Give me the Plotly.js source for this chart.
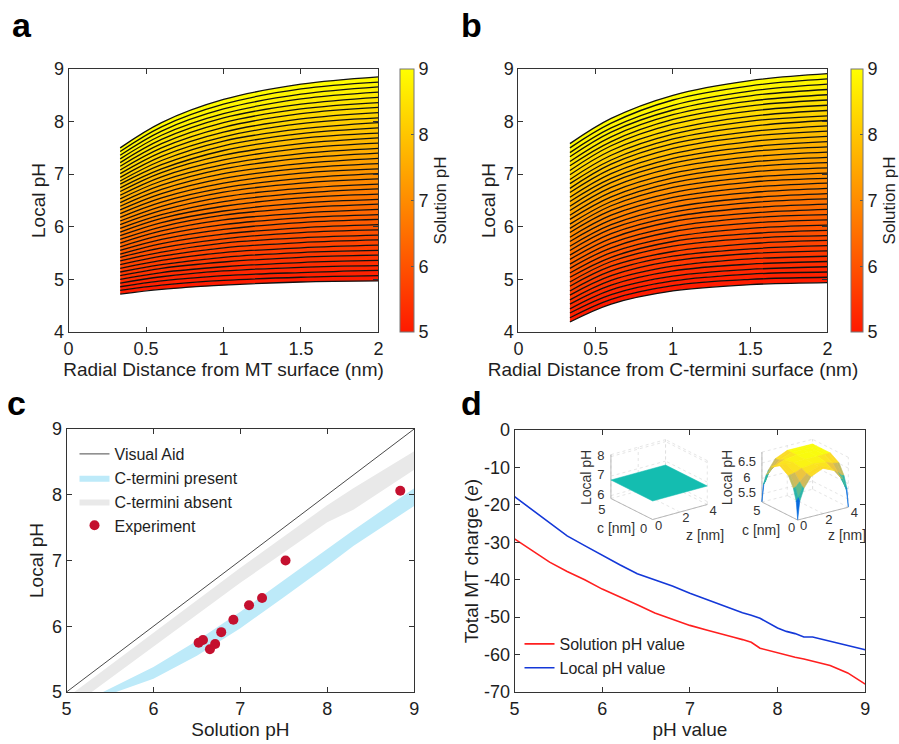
<!DOCTYPE html>
<html>
<head>
<meta charset="utf-8">
<script src="https://cdn.plot.ly/plotly-3.0.1.min.js"></script>
<style>html,body{margin:0;padding:0;background:#fff;}#chart{width:899px;height:744px;}</style>
</head>
<body>
<div id="chart"></div>
<script>
// ---------------- DATA ----------------
const solutionPH = [5.0,5.1,5.2,5.3,5.4,5.5,5.6,5.7,5.8,5.9,6.0,6.1,6.2,6.3,6.4,6.5,6.6,6.7,6.8,6.9,7.0,7.1,7.2,7.3,7.4,7.5,7.6,7.7,7.8,7.9,8.0,8.1,8.2,8.3,8.4,8.5,8.6,8.7,8.8,8.9,9.0];
const radialDist = [0.333,0.6,1.0,1.5,2.0];

// panel a: local pH at each radial distance, one entry per solution pH
const localA_r033 = [4.72,4.79,4.86,4.93,5.00,5.07,5.14,5.21,5.28,5.35,5.42,5.48,5.55,5.62,5.69,5.76,5.83,5.90,5.97,6.04,6.11,6.18,6.25,6.32,6.39,6.46,6.53,6.60,6.67,6.74,6.81,6.87,6.94,7.01,7.08,7.15,7.22,7.29,7.36,7.43,7.50];
const localA_r06  = [4.81,4.89,4.97,5.05,5.13,5.21,5.28,5.36,5.44,5.52,5.60,5.68,5.76,5.84,5.92,6.00,6.08,6.16,6.23,6.31,6.39,6.47,6.55,6.63,6.71,6.79,6.87,6.95,7.03,7.10,7.18,7.26,7.34,7.42,7.50,7.58,7.66,7.74,7.82,7.90,7.98];
const localA_r1   = [4.89,4.98,5.07,5.16,5.24,5.33,5.42,5.51,5.60,5.69,5.77,5.86,5.95,6.04,6.13,6.22,6.30,6.39,6.48,6.57,6.66,6.74,6.83,6.92,7.01,7.10,7.18,7.27,7.36,7.45,7.54,7.63,7.71,7.80,7.89,7.98,8.07,8.15,8.24,8.33,8.42];
const localA_r15  = [4.95,5.04,5.13,5.23,5.32,5.42,5.51,5.60,5.70,5.79,5.89,5.98,6.08,6.17,6.26,6.36,6.45,6.55,6.64,6.73,6.83,6.92,7.02,7.11,7.20,7.30,7.39,7.49,7.58,7.68,7.77,7.86,7.96,8.05,8.15,8.24,8.33,8.43,8.52,8.62,8.71];
const localA_r2   = [4.97,5.07,5.17,5.26,5.36,5.46,5.55,5.65,5.75,5.84,5.94,6.04,6.14,6.23,6.33,6.43,6.52,6.62,6.72,6.81,6.91,7.01,7.10,7.20,7.30,7.40,7.49,7.59,7.69,7.78,7.88,7.98,8.07,8.17,8.27,8.36,8.46,8.56,8.66,8.75,8.85];

// panel b
const localB_r033 = [4.19,4.27,4.36,4.44,4.53,4.61,4.70,4.78,4.87,4.95,5.04,5.12,5.21,5.29,5.38,5.46,5.55,5.63,5.72,5.80,5.89,5.97,6.05,6.14,6.22,6.31,6.39,6.48,6.56,6.65,6.73,6.82,6.90,6.99,7.07,7.16,7.24,7.33,7.41,7.50,7.58];
const localB_r06  = [4.53,4.62,4.71,4.80,4.89,4.98,5.07,5.16,5.25,5.34,5.42,5.51,5.60,5.69,5.78,5.87,5.96,6.04,6.13,6.22,6.31,6.40,6.48,6.57,6.66,6.75,6.84,6.92,7.01,7.10,7.19,7.27,7.36,7.45,7.54,7.62,7.71,7.80,7.88,7.97,8.06];
const localB_r1   = [4.78,4.88,4.97,5.06,5.16,5.25,5.35,5.44,5.53,5.63,5.72,5.81,5.91,6.00,6.10,6.19,6.28,6.37,6.47,6.56,6.65,6.75,6.84,6.93,7.02,7.12,7.21,7.30,7.39,7.49,7.58,7.67,7.76,7.85,7.95,8.04,8.13,8.22,8.31,8.41,8.50];
const localB_r15  = [4.90,5.00,5.10,5.19,5.29,5.39,5.49,5.58,5.68,5.78,5.87,5.97,6.07,6.17,6.26,6.36,6.46,6.55,6.65,6.75,6.85,6.94,7.04,7.14,7.23,7.33,7.43,7.52,7.62,7.72,7.81,7.91,8.01,8.10,8.20,8.30,8.39,8.49,8.58,8.68,8.78];
const localB_r2   = [4.94,5.04,5.14,5.24,5.34,5.44,5.54,5.64,5.74,5.83,5.93,6.03,6.13,6.23,6.33,6.43,6.53,6.63,6.73,6.83,6.92,7.02,7.12,7.22,7.32,7.42,7.52,7.62,7.72,7.82,7.92,8.02,8.11,8.21,8.31,8.41,8.51,8.61,8.71,8.81,8.91];

// panel c
const visualAidX = [5, 9];
const visualAidY = [5, 9];
const absentUpperX = [5.09, 6.0, 7.0, 8.0, 8.3, 9.0];
const absentUpperY = [5.00, 5.90, 6.89, 7.84, 8.10, 8.66];
const absentLowerX = [5.29, 6.0, 7.0, 8.0, 8.3, 9.0];
const absentLowerY = [5.00, 5.69, 6.66, 7.58, 7.77, 8.38];
const presentUpperX = [5.42, 6.0, 6.5, 7.0, 7.5, 8.0, 8.3, 9.0];
const presentUpperY = [5.00, 5.38, 5.78, 6.22, 6.70, 7.18, 7.46, 8.10];
const presentLowerX = [5.57, 6.0, 6.5, 7.0, 7.5, 8.0, 8.3, 9.0];
const presentLowerY = [5.00, 5.20, 5.55, 5.97, 6.44, 6.92, 7.22, 7.83];
const expSolutionPH = [6.52, 6.57, 6.65, 6.71, 6.78, 6.92, 7.10, 7.25, 7.52, 8.84];
const expLocalPH    = [5.75, 5.79, 5.65, 5.73, 5.91, 6.10, 6.32, 6.43, 7.00, 8.06];

// panel d
const chargePH = [5.0,5.2,5.4,5.6,5.8,6.0,6.2,6.4,6.6,6.8,7.0,7.2,7.4,7.5,7.6,7.7,7.8,8.0,8.1,8.2,8.3,8.4,8.6,8.8,9.0];
const chargeSolution = [-29.1,-32.3,-35.3,-37.8,-40.0,-42.5,-44.5,-46.7,-48.9,-50.5,-52.2,-53.5,-54.9,-55.4,-56.0,-56.7,-58.3,-59.6,-60.1,-60.7,-61.2,-61.7,-62.9,-64.9,-67.9];
const chargeLocal    = [-17.8,-21.3,-24.8,-28.3,-30.9,-33.5,-36.0,-38.4,-40.0,-41.7,-43.6,-45.4,-47.1,-48.0,-48.8,-49.5,-50.3,-52.9,-53.8,-54.4,-55.3,-55.3,-56.4,-57.4,-58.7];
const chargeTickVals = [-70,-60,-50,-40,-30,-20,-10,0];
const chargeTickText = ['-70','-60','-50','-40','-30','-20','-10','0'];

// insets: local pH maps over (z [nm], c [nm]); rows follow c, columns follow z
const inset1Z = [0, 4];
const inset1C = [0, 5];
const inset1PH = [[6.8, 6.8],[6.8, 6.8]];
const inset1Ticks = [6, 7, 8];
const inset2Z = [0, 0.16, 0.5, 1.05, 2, 2.95, 3.5, 3.84, 4];
const inset2C = [0, 0.2, 0.6, 1.3, 2.5, 3.7, 4.4, 4.8, 5];
const inset2PH = [
  [5.25,5.82,6.21,6.53,6.70,6.53,6.21,5.82,5.25],
  [5.82,5.92,6.23,6.53,6.70,6.53,6.23,5.92,5.82],
  [6.19,6.21,6.35,6.56,6.70,6.56,6.35,6.21,6.19],
  [6.52,6.53,6.56,6.65,6.70,6.65,6.56,6.53,6.52],
  [6.70,6.70,6.70,6.70,6.70,6.70,6.70,6.70,6.70],
  [6.52,6.53,6.56,6.65,6.70,6.70,6.70,6.70,6.70],
  [6.19,6.21,6.35,6.56,6.70,6.70,6.70,6.70,6.70],
  [5.82,5.92,6.23,6.53,6.70,6.70,6.70,6.70,6.70],
  [5.25,5.82,6.21,6.53,6.70,6.70,6.70,6.70,6.70]
];
const inset2Ticks = [5.5, 6, 6.5];
const insetZTicks = [0, 2, 4];
const insetCTicks = [0, 5];

// ---------------- STYLE ----------------
const FONT = 'Liberation Sans, Arial, Helvetica, sans-serif';
const INK = '#1e1e1e';
const AUTUMN = [[0,'rgb(255,25,0)'],[1,'rgb(255,255,0)']];
const PARULA = [[0,[53,42,135]],[0.125,[3,99,225]],[0.25,[20,133,212]],[0.375,[6,167,198]],[0.5,[56,185,158]],[0.625,[146,191,115]],[0.75,[217,186,86]],[0.875,[252,206,46]],[1,[249,251,14]]];
function autumnColor(s){
  const t = Math.max(0, Math.min(1, (s - 5) / 4));
  return 'rgb(255,' + Math.round(25 + 230 * t) + ',0)';
}
function parulaColor(t){
  t = Math.max(0, Math.min(1, t));
  for (let i = 1; i < PARULA.length; i++){
    if (t <= PARULA[i][0]){
      const a = PARULA[i-1], b = PARULA[i];
      const f = (t - a[0]) / (b[0] - a[0]);
      const c = a[1].map((v, j) => Math.round(v + f * (b[1][j] - v)));
      return 'rgb(' + c.join(',') + ')';
    }
  }
  return 'rgb(249,251,14)';
}

const traces = [];
function addFamily(cols, xa, ya){
  for (let k = 0; k < solutionPH.length; k++){
    traces.push({
      type:'scatter', mode:'lines', x: radialDist,
      y: cols.map(c => c[k]),
      xaxis: xa, yaxis: ya,
      line:{color:'#111', width:1.3, shape:'spline', smoothing:1},
      fill: k === 0 ? 'none' : 'tonexty',
      fillcolor: k === 0 ? undefined : autumnColor((solutionPH[k-1] + solutionPH[k]) / 2),
      showlegend:false, hoverinfo:'skip'
    });
  }
}
addFamily([localA_r033, localA_r06, localA_r1, localA_r15, localA_r2], 'x', 'y');
addFamily([localB_r033, localB_r06, localB_r1, localB_r15, localB_r2], 'x2', 'y2');

function cbar(x, thick){
  return {
    x: x, xanchor:'left', xpad:0, ypad:0, y:0.7305, yanchor:'middle',
    len:0.3535, lenmode:'fraction', thickness:thick, thicknessmode:'pixels',
    tickvals:[5,6,7,8,9], ticks:'inside', ticklen:3, tickcolor:'#555',
    outlinewidth:1, outlinecolor:'#777',
    tickfont:{family:FONT, size:18, color:INK},
    title:{text:'Solution pH', side:'right', font:{family:FONT, size:17, color:INK}}
  };
}
traces.push({type:'scatter', mode:'markers', x:[null], y:[null], xaxis:'x', yaxis:'y', showlegend:false, hoverinfo:'skip',
  marker:{color:solutionPH.slice(0,1), cmin:5, cmax:9, colorscale:AUTUMN, showscale:true, colorbar:cbar(403/899, 14)}});
traces.push({type:'scatter', mode:'markers', x:[null], y:[null], xaxis:'x2', yaxis:'y2', showlegend:false, hoverinfo:'skip',
  marker:{color:solutionPH.slice(0,1), cmin:5, cmax:9, colorscale:AUTUMN, showscale:true, colorbar:cbar(857/899, 12)}});

// panel c
traces.push({type:'scatter', mode:'lines', xaxis:'x3', yaxis:'y3', name:'C-termini absent', legend:'legend', legendrank:3,
  x: absentUpperX.concat(absentLowerX.slice().reverse()),
  y: absentUpperY.concat(absentLowerY.slice().reverse()),
  fill:'toself', fillcolor:'#e9e9e9', line:{width:0, color:'#e9e9e9'}, hoverinfo:'skip'});
traces.push({type:'scatter', mode:'lines', xaxis:'x3', yaxis:'y3', name:'C-termini present', legend:'legend', legendrank:2,
  x: presentUpperX.concat(presentLowerX.slice().reverse()),
  y: presentUpperY.concat(presentLowerY.slice().reverse()),
  fill:'toself', fillcolor:'#bdeaf9', line:{width:0, color:'#bdeaf9'}, hoverinfo:'skip'});
traces.push({type:'scatter', mode:'lines', xaxis:'x3', yaxis:'y3', name:'Visual Aid', legend:'legend', legendrank:1,
  x: visualAidX, y: visualAidY, line:{color:'#4a4a4a', width:1}, hoverinfo:'skip'});
traces.push({type:'scatter', mode:'markers', xaxis:'x3', yaxis:'y3', name:'Experiment', legend:'legend', legendrank:4,
  x: expSolutionPH, y: expLocalPH, marker:{color:'#c4102f', size:10}, hoverinfo:'skip'});

// panel d
traces.push({type:'scatter', mode:'lines', xaxis:'x4', yaxis:'y4', name:'Solution pH value', legend:'legend2',
  x: chargePH, y: chargeSolution, line:{color:'#ff1f1f', width:1.6}, hoverinfo:'skip'});
traces.push({type:'scatter', mode:'lines', xaxis:'x4', yaxis:'y4', name:'Local pH value', legend:'legend2',
  x: chargePH, y: chargeLocal, line:{color:'#1438d8', width:1.6}, hoverinfo:'skip'});

// ---------------- INSETS (oblique 3-D projection drawn on a pixel-space overlay axis) ----------------
const box1 = {o:[657,519.5], ez:[13.75,-3.75], ec:[-8.4,-4.2], eh:19.5, h0:5.85, hTop:8.1};
const box2 = {o:[803,520], ez:[12.75,-3.2], ec:[-7.2,-3.6], eh:31, h0:5.24, hTop:6.85};
function P(b, z, c, h){
  return [b.o[0] + z*b.ez[0] + c*b.ec[0], b.o[1] + z*b.ez[1] + c*b.ec[1] - (h - b.h0)*b.eh];
}
function seg(arr, b, p, q){ const A = P(b, ...p), B = P(b, ...q); arr.x.push(A[0], B[0], null); arr.y.push(A[1], B[1], null); }
function insetFrame(b, zs, cs, hTicks){
  const zMax = zs[zs.length-1], cMax = cs[cs.length-1];
  const grid = {x:[], y:[]}, axes = {x:[], y:[]};
  hTicks.concat([b.hTop]).forEach(h => { seg(grid, b, [0,cMax,h],[zMax,cMax,h]); seg(grid, b, [zMax,0,h],[zMax,cMax,h]); });
  insetZTicks.forEach(z => { seg(grid, b, [z,cMax,b.h0],[z,cMax,b.hTop]); seg(grid, b, [z,0,b.h0],[z,cMax,b.h0]); });
  insetCTicks.forEach(c => { seg(grid, b, [zMax,c,b.h0],[zMax,c,b.hTop]); seg(grid, b, [0,c,b.h0],[zMax,c,b.h0]); });
  seg(axes, b, [0,0,b.h0],[zMax,0,b.h0]);
  seg(axes, b, [0,0,b.h0],[0,cMax,b.h0]);
  seg(axes, b, [0,cMax,b.h0],[0,cMax,b.hTop]);
  traces.push({type:'scatter', mode:'lines', xaxis:'x5', yaxis:'y5', x:grid.x, y:grid.y, line:{color:'#dedede', width:0.8, dash:'dot'}, showlegend:false, hoverinfo:'skip'});
  traces.push({type:'scatter', mode:'lines', xaxis:'x5', yaxis:'y5', x:axes.x, y:axes.y, line:{color:'#a8a8a8', width:0.8}, showlegend:false, hoverinfo:'skip'});
}
function insetText(b, hTicks, hLabels, off){
  const tx = [], ty = [], tt = [];
  hTicks.forEach((h, i) => { const p = P(b, 0, 5, h); tx.push(p[0] + off.h); ty.push(p[1]); tt.push(hLabels[i]); });
  insetCTicks.forEach(c => { const p = P(b, 0, c, b.h0); const o = c === 0 ? off.c0 : off.c5; tx.push(p[0] + o[0]); ty.push(p[1] + o[1]); tt.push(String(c)); });
  insetZTicks.forEach(z => { const p = P(b, z, 0, b.h0); tx.push(p[0] + 6); ty.push(p[1] + 7); tt.push(String(z)); });
  traces.push({type:'scatter', mode:'text', xaxis:'x5', yaxis:'y5', x:tx, y:ty, text:tt, textposition:'middle center',
    textfont:{family:FONT, size:13, color:'#333'}, showlegend:false, hoverinfo:'skip', cliponaxis:false});
}

// inset 1: flat plane
insetFrame(box1, inset1Z, inset1C, inset1Ticks);
(function(){
  const xs = [], ys = [];
  [[0,0],[0,1],[1,1],[1,0],[0,0]].forEach(([i,j]) => { const p = P(box1, inset1Z[j], inset1C[i], inset1PH[i][j]); xs.push(p[0]); ys.push(p[1]); });
  traces.push({type:'scatter', mode:'lines', xaxis:'x5', yaxis:'y5', x:xs, y:ys, fill:'toself', fillcolor:'#14bdb0',
    line:{color:'#14bdb0', width:0.5}, showlegend:false, hoverinfo:'skip'});
})();
insetText(box1, inset1Ticks, ['6','7','8'], {h:-10, c0:[-9,10], c5:[-9,12]});

// inset 2: arched surface, painted far-to-near
insetFrame(box2, inset2Z, inset2C, inset2Ticks);
(function(){
  const quads = [];
  const lo = 5.25, hi = 6.70;
  for (let i = 0; i < inset2C.length - 1; i++){
    for (let j = 0; j < inset2Z.length - 1; j++){
      const corners = [[i,j],[i,j+1],[i+1,j+1],[i+1,j]];
      const vals = corners.map(([a,b]) => inset2PH[a][b]);
      const avg = vals.reduce((s,v) => s + v, 0) / 4;
      const shade = 0.5 * avg + 0.5 * Math.min(...vals);
      const depth = (inset2C[i] + inset2C[i+1]) / 10 + (inset2Z[j] + inset2Z[j+1]) / 8;
      quads.push({corners, shade, depth});
    }
  }
  quads.sort((a, b) => b.depth - a.depth);
  quads.forEach(q => {
    const xs = [], ys = [];
    q.corners.concat([q.corners[0]]).forEach(([a,b]) => { const p = P(box2, inset2Z[b], inset2C[a], inset2PH[a][b]); xs.push(p[0]); ys.push(p[1]); });
    const col = parulaColor((q.shade - lo) / (hi - lo));
    traces.push({type:'scatter', mode:'lines', xaxis:'x5', yaxis:'y5', x:xs, y:ys, fill:'toself', fillcolor:col,
      line:{color:col, width:0.6}, showlegend:false, hoverinfo:'skip'});
  });
})();
insetText(box2, inset2Ticks, ['5.5','6','6.5'], {h:-15, c0:[-6,9], c5:[-5,10]});

function ax(domain, range, extra){
  return Object.assign({
    domain: domain, range: range, showline:true, mirror:'ticks', ticks:'inside', ticklen:5,
    tickcolor:'#333', linecolor:'#333', linewidth:1, showgrid:false, zeroline:false,
    tickfont:{family:FONT, size:18, color:INK}
  }, extra);
}
function ttl(t, so){ return {text:t, standoff:so, font:{family:FONT, size:19, color:INK}}; }
function ann(text, x, y, size, angle){
  return {text:text, x:x, y:y, xref:'x5', yref:'y5', xanchor:'center', yanchor:'middle', showarrow:false,
    textangle:angle || 0, font:{family:FONT, size:size, color:'#333'}};
}
function letter(t, x, y){
  return {text:'<b>' + t + '</b>', x:x/899, y:1-y/744, xref:'paper', yref:'paper', xanchor:'left', yanchor:'top',
    showarrow:false, font:{family:FONT, size:34, color:'#000'}};
}

const ydomTop = [0.5538, 0.9073];
const layout = {
  width:899, height:744, margin:{l:0,r:0,t:0,b:0},
  paper_bgcolor:'#fff', plot_bgcolor:'rgba(0,0,0,0)', hovermode:false,
  font:{family:FONT, color:INK},
  xaxis: ax([0.0768,0.4238],[0,2],{anchor:'y', tickvals:[0,0.5,1,1.5,2], title:ttl('Radial Distance from MT surface (nm)', 3)}),
  yaxis: ax(ydomTop,[4,9],{anchor:'x', dtick:1, title:ttl('Local pH', 3)}),
  xaxis2: ax([0.5806,0.9266],[0,2],{anchor:'y2', tickvals:[0,0.5,1,1.5,2], title:ttl('Radial Distance from C-termini surface (nm)', 3)}),
  yaxis2: ax(ydomTop,[4,9],{anchor:'x2', dtick:1, title:ttl('Local pH', 3)}),
  xaxis3: ax([0.0745,0.4638],[5,9],{anchor:'y3', dtick:1, title:ttl('Solution pH', 3)}),
  yaxis3: ax([0.0699,0.4234],[5,9],{anchor:'x3', dtick:1, title:ttl('Local pH', 3)}),
  xaxis4: ax([0.5762,0.9689],[5,9],{anchor:'y4', dtick:1, title:ttl('pH value', 3)}),
  yaxis4: ax([0.0699,0.4220],[-70,0],{anchor:'x4', tickvals:chargeTickVals, ticktext:chargeTickText, title:ttl('Total MT charge (<i>e</i>)', 0)}),
  xaxis5: {domain:[0.5762,0.9689], range:[518,871], anchor:'y5', visible:false, fixedrange:true},
  yaxis5: {domain:[0.0699,0.4220], range:[692,430], anchor:'x5', visible:false, fixedrange:true},
  legend:{x:75/899, y:1-437/744, xanchor:'left', yanchor:'top', bgcolor:'rgba(0,0,0,0)', borderwidth:0,
    font:{family:FONT, size:16, color:INK}, tracegroupgap:0, traceorder:'normal'},
  legend2:{x:523/899, y:1-627/744, xanchor:'left', yanchor:'top', bgcolor:'rgba(0,0,0,0)', borderwidth:0,
    font:{family:FONT, size:16, color:INK}, tracegroupgap:0},
  annotations:[
    letter('a', 10, 4), letter('b', 462, 4), letter('c', 5, 382), letter('d', 462, 382),
    ann('Local pH', 590, 478, 14, -90), ann('c [nm]', 620, 528, 14), ann('z [nm]', 710, 535, 14),
    ann('Local pH', 732, 478, 14, -90), ann('c [nm]', 766, 530, 14), ann('z [nm]', 853, 535, 14)
  ]
};

Plotly.newPlot('chart', traces, layout, {displayModeBar:false, staticPlot:true});
</script>
</body>
</html>
